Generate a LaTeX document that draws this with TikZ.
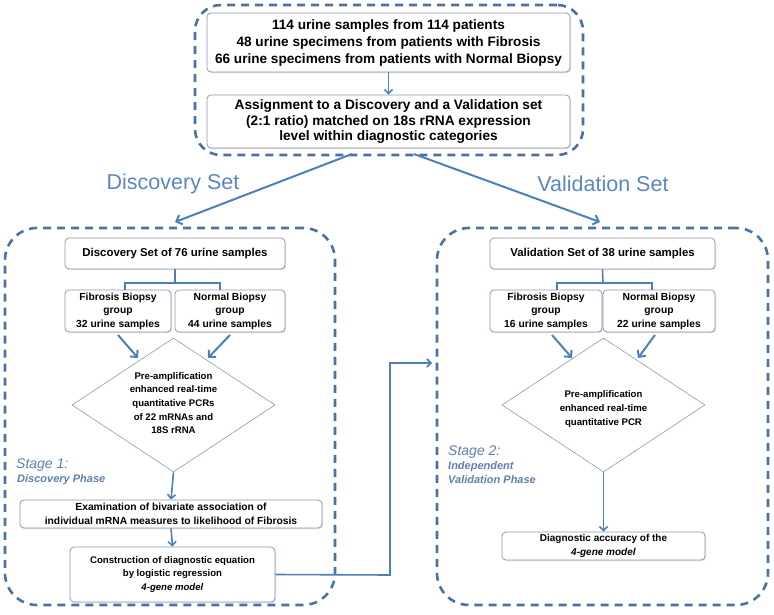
\documentclass[tikz,border=0pt]{standalone}
\usepackage{fontspec}
\setmainfont{Liberation Sans}
\usetikzlibrary{arrows.meta,shapes.geometric,shadows}
\definecolor{frameblue}{HTML}{4A72A6}
\definecolor{arrblue}{HTML}{4F7FBA}
\definecolor{boxline}{HTML}{8A9AB0}
\definecolor{lblblue}{HTML}{5A86C2}
\definecolor{stageblue}{HTML}{5F7FAE}
\tikzset{
  frame/.style={draw=frameblue, line width=2.6pt, dash pattern=on 8pt off 6pt, rounded corners=26pt, inner sep=0pt},
  procbox/.style={draw=boxline, line width=0.8pt, fill=white, rounded corners=4pt, align=center, font=\bfseries, inner sep=1pt,
    drop shadow={shadow xshift=1pt, shadow yshift=-1.2pt, opacity=0.25}},
  diam/.style={draw=boxline, line width=0.6pt, fill=white, shape=diamond, inner sep=0pt},
  txt/.style={align=center, font=\bfseries\fontsize{9.6}{13.7}\selectfont},
  flowarr/.style={draw=arrblue, line width=2pt, -{Straight Barb[length=5pt,width=10pt]}},
  thinarr/.style={draw=arrblue, line width=1.6pt, -{Straight Barb[length=4pt,width=8pt]}},
  treeline/.style={draw=arrblue, line width=1.6pt},
  biglbl/.style={text=lblblue, font=\fontsize{21.5}{23}\selectfont},
  stagelbl/.style={text=stageblue, font=\itshape\fontsize{14}{16}\selectfont, anchor=west, inner sep=0pt},
  phaselbl/.style={text=stageblue, font=\bfseries\itshape\fontsize{11}{14}\selectfont, anchor=north west, align=left, inner sep=0pt}
}
\begin{document}
\begin{tikzpicture}[x=1pt,y=-1pt]
\useasboundingbox (0,0) rectangle (774,615);
% frames
\node[frame, minimum width=388pt, minimum height=150pt] (topf) at (389,80) {};
\node[frame, minimum width=330pt, minimum height=377pt, rounded corners=32pt] (lf) at (170,416.5) {};
\node[frame, minimum width=331pt, minimum height=377pt, rounded corners=32pt] (rf) at (602.5,416.5) {};
% top boxes
\node[procbox, minimum width=363pt, minimum height=59pt, font=\bfseries\fontsize{13.6}{17}\selectfont] (b1) at (388.5,42.5)
  {114 urine samples from 114 patients\\48 urine specimens from patients with Fibrosis\\66 urine specimens from patients with Normal Biopsy};
\node[procbox, minimum width=363pt, minimum height=53pt, font=\bfseries\fontsize{13.7}{15.2}\selectfont] (b2) at (388.5,121.5)
  {Assignment to a Discovery and a Validation set\\(2:1 ratio) matched on 18s rRNA expression\\level within diagnostic categories};
\draw[thinarr] (b1.south) -- (b2.north);
% set labels
\node[biglbl] (dl) at (173,184) {Discovery Set};
\node[biglbl] (vl) at (603,184) {Validation Set};
\coordinate (ds) at (352,154);
\coordinate (vs) at (414,154);
\coordinate (dt) at (175,222);
\coordinate (vt) at (600,222);
\draw[flowarr] (ds) -- (dt);
\draw[flowarr] (vs) -- (vt);
% left side
\node[procbox, minimum width=220pt, minimum height=31pt, font=\bfseries\fontsize{11.4}{13}\selectfont] (ld) at (175,253.5) {Discovery Set of 76 urine samples};
\node[procbox, minimum width=106pt, minimum height=42pt, font=\bfseries\fontsize{10.3}{13.5}\selectfont] (lfb) at (118,311) {Fibrosis Biopsy\\group\\32 urine samples};
\node[procbox, minimum width=110pt, minimum height=42pt, font=\bfseries\fontsize{10.3}{13.5}\selectfont] (lnb) at (230,311) {Normal Biopsy\\group\\44 urine samples};
\coordinate (lj) at (175,283);
\draw[treeline] (ld.south) -- (lj);
\draw[treeline] (125,290) |- (lj) -| (220,290);
\node[diam, minimum width=203pt, minimum height=134pt] (ldm) at (173.5,405) {};
\node[txt] (ldt) at ([yshift=2]ldm.center) {Pre-amplification\\enhanced real-time\\quantitative PCRs\\of 22 mRNAs and\\18S rRNA};
\coordinate (la1) at (118,335); \coordinate (la2) at (138,358);
\coordinate (la3) at (230,335); \coordinate (la4) at (208,358);
\draw[flowarr] (la1) -- (la2);
\draw[flowarr] (la3) -- (la4);
\node[procbox, minimum width=302pt, minimum height=28pt, font=\bfseries\fontsize{10.3}{13.5}\selectfont] (lex) at (171,514) {Examination of bivariate association of\\individual mRNA measures to likelihood of Fibrosis};
\node[procbox, minimum width=205pt, minimum height=55pt, font=\bfseries\fontsize{9.6}{13.5}\selectfont] (lco) at (172.5,574.5) {Construction of diagnostic equation\\by logistic regression\\\textit{4-gene model}};
\draw[thinarr] (ldm.south) -- (lex.north);
\draw[thinarr] (lex.south) -- (lco.north);
\node[stagelbl] (s1) at (16,465) {Stage 1:};
\node[phaselbl] (p1) at (17,474) {Discovery Phase};
% right side
\node[procbox, minimum width=225pt, minimum height=31pt, font=\bfseries\fontsize{11.4}{13}\selectfont] (rd) at (602.5,253.5) {Validation Set of 38 urine samples};
\node[procbox, minimum width=112pt, minimum height=42pt, font=\bfseries\fontsize{10.3}{13.5}\selectfont] (rfb) at (546,311) {Fibrosis Biopsy\\group\\16 urine samples};
\node[procbox, minimum width=112pt, minimum height=42pt, font=\bfseries\fontsize{10.3}{13.5}\selectfont] (rnb) at (659,311) {Normal Biopsy\\group\\22 urine samples};
\coordinate (rj) at (603,283);
\draw[treeline] (rd.south) -- (rj);
\draw[treeline] (557,290) |- (rj) -| (652,290);
\node[diam, minimum width=203pt, minimum height=134pt] (rdm) at (603.5,405) {};
\node[txt] (rdt) at ([yshift=-4]rdm.center) {Pre-amplification\\enhanced real-time\\quantitative PCR};
\coordinate (ra1) at (552,335); \coordinate (ra2) at (572,358);
\coordinate (ra3) at (655,335); \coordinate (ra4) at (638,358);
\draw[flowarr] (ra1) -- (ra2);
\draw[flowarr] (ra3) -- (ra4);
\node[procbox, minimum width=203pt, minimum height=28pt, font=\bfseries\fontsize{10}{13.5}\selectfont] (rdg) at (603.5,546) {Diagnostic accuracy of the\\\textit{4-gene model}};
\draw[thinarr] (rdm.south) -- (rdg.north);
\node[stagelbl] (s2) at (448,452) {Stage 2:};
\node[phaselbl] (p2) at (448,461) {Independent\\Validation Phase};
% connector
\coordinate (cx) at (390,575);
\coordinate (vin) at (432,363);
\draw[thinarr] (lco.east) -- (cx) |- (vin);
\end{tikzpicture}
\end{document}
